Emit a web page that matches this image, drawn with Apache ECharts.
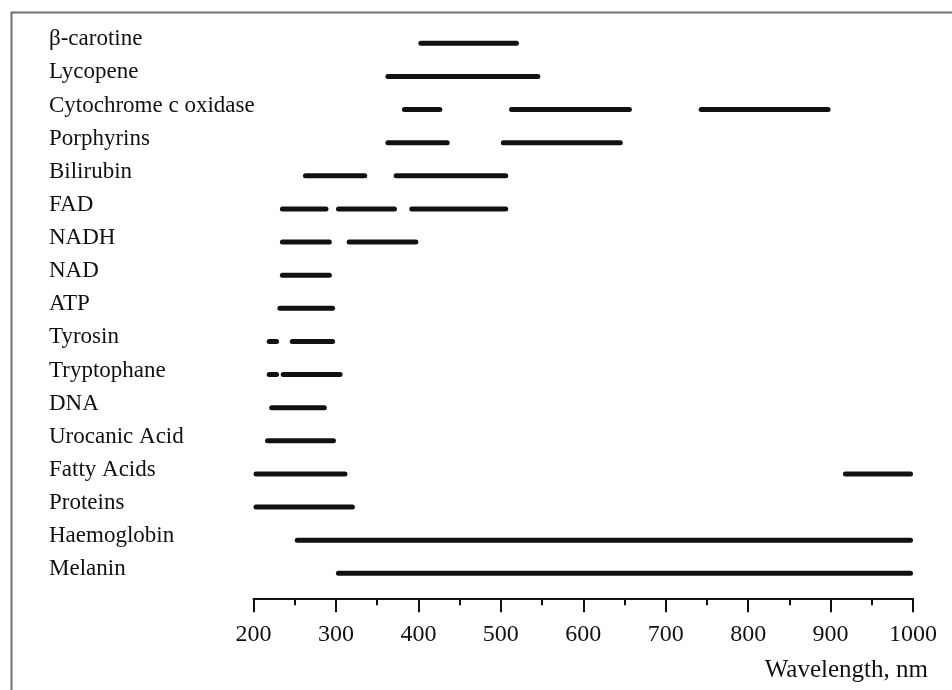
<!DOCTYPE html>
<html>
<head>
<meta charset="utf-8">
<script src="https://cdn.jsdelivr.net/npm/echarts@6/dist/echarts.min.js"></script>
<style>
html,body{margin:0;padding:0;background:#fff;}
#chart{width:952px;height:690px;}
</style>
</head>
<body>
<div id="chart"></div>
<script>
// Compounds (rows, top to bottom)
const compounds = ['β-carotine', 'Lycopene', 'Cytochrome c oxidase', 'Porphyrins', 'Bilirubin', 'FAD', 'NADH', 'NAD', 'ATP', 'Tyrosin', 'Tryptophane', 'DNA', 'Urocanic Acid', 'Fatty Acids', 'Proteins', 'Haemoglobin', 'Melanin'];

// Absorption bands (nm): one entry per segment
const segmentCompound = [
  'β-carotine', 'Lycopene',
  'Cytochrome c oxidase', 'Cytochrome c oxidase', 'Cytochrome c oxidase',
  'Porphyrins', 'Porphyrins',
  'Bilirubin', 'Bilirubin',
  'FAD', 'FAD', 'FAD',
  'NADH', 'NADH',
  'NAD', 'ATP',
  'Tyrosin', 'Tyrosin',
  'Tryptophane', 'Tryptophane',
  'DNA', 'Urocanic Acid',
  'Fatty Acids', 'Fatty Acids',
  'Proteins', 'Haemoglobin', 'Melanin'
];
const segmentStart = [400, 360, 380, 510, 740, 360, 500, 260, 370, 232, 300, 389, 232, 313, 232, 229, 216, 244, 216, 233, 219, 214, 200, 915, 200, 250, 300];
const segmentEnd   = [522, 548, 429, 659, 900, 438, 648, 338, 509, 291, 374, 509, 295, 400, 295, 299, 231, 299, 231, 308, 289, 300, 314, 1000, 323, 1000, 1000];

// Axis
const axisMin = 200;
const axisMax = 1000;
const axisStep = 100;
const axisTitle = 'Wavelength, nm';

const data = segmentCompound.map((c, i) => [segmentStart[i], segmentEnd[i], compounds.indexOf(c)]);

const chart = echarts.init(document.getElementById('chart'), null, {renderer: 'canvas'});
const serif = 'Liberation Serif';
chart.setOption({
  backgroundColor: '#fff',
  animation: false,
  title: {
    text: axisTitle,
    right: 19,
    top: 653,
    textStyle: {fontFamily: serif, fontSize: 25, fontWeight: 'normal', color: '#111'}
  },
  graphic: [{
    type: 'rect',
    left: 9, top: 10,
    shape: {width: 1000, height: 1000},
    style: {fill: 'none', stroke: '#707070', lineWidth: 2},
    z: -1, silent: true
  }],
  grid: {left: 253.5, right: 39, top: 26.7, bottom: 100.1, containLabel: false},
  xAxis: {
    type: 'value',
    min: axisMin, max: axisMax, interval: axisStep,
    offset: 8.4,
    axisLine: {show: true, lineStyle: {color: '#111', width: 2}},
    axisTick: {show: true, length: 14, lineStyle: {color: '#111', width: 2}},
    minorTick: {show: true, splitNumber: 2, length: 7, lineStyle: {color: '#111', width: 2}},
    splitLine: {show: false},
    axisLabel: {fontFamily: serif, fontSize: 24, color: '#111', margin: 24, formatter: function (v) { return String(v); }}
  },
  yAxis: {
    type: 'category',
    data: compounds,
    inverse: true,
    axisLine: {show: false},
    axisTick: {show: false},
    splitLine: {show: false},
    axisLabel: {
      align: 'left',
      verticalAlign: 'bottom',
      lineHeight: 8,
      margin: 204.5,
      fontFamily: serif,
      fontSize: 23,
      color: '#111'
    }
  },
  series: [{
    type: 'custom',
    encode: {x: [0, 1], y: 2},
    data: data,
    renderItem: function (params, api) {
      const row = api.value(2);
      const p1 = api.coord([api.value(0), row]);
      const p2 = api.coord([api.value(1), row]);
      const cap = 2.5;
      return {
        type: 'line',
        shape: {x1: p1[0] + cap, y1: p1[1], x2: p2[0] - cap, y2: p2[1]},
        style: {stroke: '#111', lineWidth: 5, lineCap: 'round'}
      };
    }
  }]
});
</script>
</body>
</html>
